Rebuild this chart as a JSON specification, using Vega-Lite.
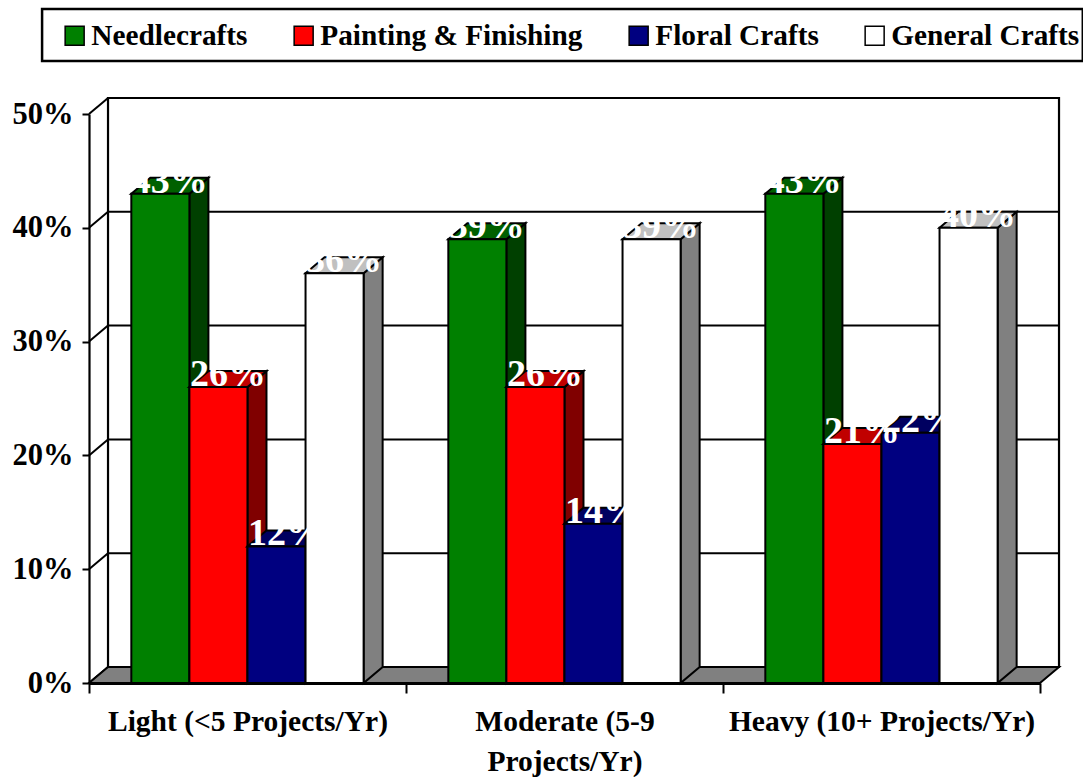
{
"$schema":"https://vega.github.io/schema/vega-lite/v6.json",
"width":951,"height":569,
"autosize":{"type":"none"},
"padding":{"left":89,"top":114,"right":43,"bottom":94},
"background":"white",
"config":{"view":{"stroke":null},"font":"Liberation Serif"},
"datasets":{
"bars":[
{"category":"Light (<5 Projects/Yr)","series":"Needlecrafts","value":0.43},
{"category":"Light (<5 Projects/Yr)","series":"Painting & Finishing","value":0.26},
{"category":"Light (<5 Projects/Yr)","series":"Floral Crafts","value":0.12},
{"category":"Light (<5 Projects/Yr)","series":"General Crafts","value":0.36},
{"category":"Moderate (5-9 Projects/Yr)","series":"Needlecrafts","value":0.39},
{"category":"Moderate (5-9 Projects/Yr)","series":"Painting & Finishing","value":0.26},
{"category":"Moderate (5-9 Projects/Yr)","series":"Floral Crafts","value":0.14},
{"category":"Moderate (5-9 Projects/Yr)","series":"General Crafts","value":0.39},
{"category":"Heavy (10+ Projects/Yr)","series":"Needlecrafts","value":0.43},
{"category":"Heavy (10+ Projects/Yr)","series":"Painting & Finishing","value":0.21},
{"category":"Heavy (10+ Projects/Yr)","series":"Floral Crafts","value":0.22},
{"category":"Heavy (10+ Projects/Yr)","series":"General Crafts","value":0.40}
],
"ticks":[{"t":0},{"t":0.1},{"t":0.2},{"t":0.3},{"t":0.4},{"t":0.5}],
"one":[{"n":1}]
},
"layer":[
{"data":{"name":"one"},"mark":{"type":"rect","fill":"white","stroke":"black","strokeWidth":2.2},
 "encoding":{
  "x":{"datum":0.06,"type":"quantitative","scale":{"domain":[0,3],"nice":false,"zero":false},
   "axis":{"title":null,"values":[0,0.5,1,1.5,2,2.5,3],"grid":false,"zindex":1,"domainColor":"black","domainWidth":3,"tickColor":"black","tickWidth":2,"tickSize":10,
    "tickOpacity":{"condition":{"test":"datum.value % 1 == 0","value":1},"value":0},
    "labelExpr":"datum.value==0.5?'Light (<5 Projects/Yr)':datum.value==1.5?['Moderate (5-9','Projects/Yr)']:datum.value==2.5?'Heavy (10+ Projects/Yr)':''",
    "labelFont":"Liberation Serif","labelFontWeight":"bold","labelFontSize":29.5,"labelColor":"black","labelPadding":14,"labelLimit":0,"labelOverlap":false,"labelFlush":false,"labelAngle":0,"labelLineHeight":40,"labelBaseline":"top"}},
  "x2":{"datum":3.06},
  "y":{"datum":0.01406,"type":"quantitative","scale":{"domain":[0,0.5],"nice":false,"zero":false},
   "axis":{"title":null,"values":[0,0.1,0.2,0.3,0.4,0.5],"format":".0%","grid":false,"zindex":1,"domainColor":"black","domainWidth":2.2,"tickColor":"black","tickWidth":2,"tickSize":7,
    "labelFont":"Liberation Serif","labelFontWeight":"bold","labelFontSize":30.5,"labelColor":"black","labelPadding":9}},
  "y2":{"datum":0.51406}
 }},
{"data":{"name":"one"},"mark":{"type":"rect","fill":"white","stroke":"black","strokeWidth":2.5},
 "encoding":{"x":{"datum":-0.148,"type":"quantitative"},"x2":{"datum":3.135},"y":{"datum":0.5466,"type":"quantitative"},"y2":{"datum":0.5922}}},
{"data":{"name":"ticks"},"transform":[{"calculate":"datum.t+0.01406","as":"tb"}],"mark":{"type":"rule","stroke":"black","strokeWidth":2},
 "encoding":{"x":{"datum":0.06,"type":"quantitative"},"x2":{"datum":3.06},"y":{"field":"tb","type":"quantitative"}}},
{"data":{"name":"ticks"},"transform":[{"calculate":"datum.t+0.01406","as":"tb"}],"mark":{"type":"rule","stroke":"black","strokeWidth":2},
 "encoding":{"x":{"datum":0,"type":"quantitative"},"x2":{"datum":0.06},"y":{"field":"t","type":"quantitative"},"y2":{"field":"tb"}}},
{"data":{"values":[{"k":0},{"k":1}]},"transform":[{"calculate":"datum.k*0.06","as":"a"},{"calculate":"3+datum.k*0.06","as":"b"},{"calculate":"datum.k*0.01406","as":"c"}],
 "mark":{"type":"area","orient":"horizontal","fill":"#808080","stroke":"black","strokeWidth":2},
 "encoding":{"y":{"field":"c","type":"quantitative","stack":null},"x":{"field":"a","type":"quantitative","stack":null},"x2":{"field":"b"}}},
{"data":{"name":"bars"},
 "transform":[
  {"calculate":"indexof(['Light (<5 Projects/Yr)','Moderate (5-9 Projects/Yr)','Heavy (10+ Projects/Yr)'],datum.category)","as":"cat"},
  {"calculate":"indexof(['Needlecrafts','Painting & Finishing','Floral Crafts','General Crafts'],datum.series)","as":"ser"},
  {"calculate":"datum.cat+0.1335+datum.ser*0.1832","as":"xa"},
  {"calculate":"datum.xa+0.1832","as":"xb"},
  {"calculate":"[0,1]","as":"k"},
  {"flatten":["k"]},
  {"calculate":"datum.xb+datum.k*0.06","as":"sx"},
  {"calculate":"datum.xa+datum.k*0.06","as":"tx"},
  {"calculate":"datum.xb+datum.k*0.06","as":"tx2"},
  {"calculate":"datum.k*0.01406","as":"low"},
  {"calculate":"datum.value+datum.k*0.01406","as":"high"},
  {"calculate":"datum.xa+0.0916+0.03","as":"xc"}
 ],
 "layer":[
  {"transform":[{"filter":"datum.ser==0"}],"layer":[
   {"mark":{"type":"area","orient":"vertical","fill":"#004000","stroke":"black","strokeWidth":2},"encoding":{"detail":{"field":"category"},"x":{"field":"sx","type":"quantitative"},"y":{"field":"high","type":"quantitative","stack":null},"y2":{"field":"low"}}},
   {"mark":{"type":"area","orient":"horizontal","fill":"#006000","stroke":"black","strokeWidth":2},"encoding":{"detail":{"field":"category"},"y":{"field":"high","type":"quantitative"},"x":{"field":"tx","type":"quantitative","stack":null},"x2":{"field":"tx2"}}},
   {"transform":[{"filter":"datum.k==0"}],"mark":{"type":"rect","stroke":"black","strokeWidth":2},"encoding":{"x":{"field":"xa","type":"quantitative"},"x2":{"field":"xb"},"y":{"field":"value","type":"quantitative"},"y2":{"datum":0},
     "color":{"field":"series","type":"nominal","scale":{"domain":["Needlecrafts","Painting & Finishing","Floral Crafts","General Crafts"],"range":["#008000","#ff0000","#000080","#ffffff"]},
      "legend":{"title":null,"orient":"none","legendX":-29,"legendY":-93,"direction":"horizontal","columns":4,"symbolType":"square","symbolSize":361,"symbolStrokeColor":"black","symbolStrokeWidth":1.5,"symbolOpacity":1,"labelFont":"Liberation Serif","labelFontWeight":"bold","labelFontSize":29.3,"labelColor":"black","labelOffset":2,"labelLimit":400,"columnPadding":41,"padding":0}}}}
  ]},
  {"transform":[{"filter":"datum.ser==1"}],"layer":[
   {"mark":{"type":"area","orient":"vertical","fill":"#800000","stroke":"black","strokeWidth":2},"encoding":{"detail":{"field":"category"},"x":{"field":"sx","type":"quantitative"},"y":{"field":"high","type":"quantitative","stack":null},"y2":{"field":"low"}}},
   {"mark":{"type":"area","orient":"horizontal","fill":"#c00000","stroke":"black","strokeWidth":2},"encoding":{"detail":{"field":"category"},"y":{"field":"high","type":"quantitative"},"x":{"field":"tx","type":"quantitative","stack":null},"x2":{"field":"tx2"}}},
   {"transform":[{"filter":"datum.k==0"}],"mark":{"type":"rect","stroke":"black","strokeWidth":2},"encoding":{"x":{"field":"xa","type":"quantitative"},"x2":{"field":"xb"},"y":{"field":"value","type":"quantitative"},"y2":{"datum":0},"color":{"field":"series","type":"nominal"}}}
  ]},
  {"transform":[{"filter":"datum.ser==2"}],"layer":[
   {"mark":{"type":"area","orient":"vertical","fill":"#000040","stroke":"black","strokeWidth":2},"encoding":{"detail":{"field":"category"},"x":{"field":"sx","type":"quantitative"},"y":{"field":"high","type":"quantitative","stack":null},"y2":{"field":"low"}}},
   {"mark":{"type":"area","orient":"horizontal","fill":"#000060","stroke":"black","strokeWidth":2},"encoding":{"detail":{"field":"category"},"y":{"field":"high","type":"quantitative"},"x":{"field":"tx","type":"quantitative","stack":null},"x2":{"field":"tx2"}}},
   {"transform":[{"filter":"datum.k==0"}],"mark":{"type":"rect","stroke":"black","strokeWidth":2},"encoding":{"x":{"field":"xa","type":"quantitative"},"x2":{"field":"xb"},"y":{"field":"value","type":"quantitative"},"y2":{"datum":0},"color":{"field":"series","type":"nominal"}}}
  ]},
  {"transform":[{"filter":"datum.ser==3"}],"layer":[
   {"mark":{"type":"area","orient":"vertical","fill":"#808080","stroke":"black","strokeWidth":2},"encoding":{"detail":{"field":"category"},"x":{"field":"sx","type":"quantitative"},"y":{"field":"high","type":"quantitative","stack":null},"y2":{"field":"low"}}},
   {"mark":{"type":"area","orient":"horizontal","fill":"#c0c0c0","stroke":"black","strokeWidth":2},"encoding":{"detail":{"field":"category"},"y":{"field":"high","type":"quantitative"},"x":{"field":"tx","type":"quantitative","stack":null},"x2":{"field":"tx2"}}},
   {"transform":[{"filter":"datum.k==0"}],"mark":{"type":"rect","stroke":"black","strokeWidth":2},"encoding":{"x":{"field":"xa","type":"quantitative"},"x2":{"field":"xb"},"y":{"field":"value","type":"quantitative"},"y2":{"datum":0},"color":{"field":"series","type":"nominal"}}}
  ]},
  {"transform":[{"filter":"datum.k==0"}],"mark":{"type":"text","font":"Liberation Serif","fontWeight":"bold","fontSize":38,"fill":"white","align":"center","baseline":"alphabetic","dy":-1},
   "encoding":{"x":{"field":"xc","type":"quantitative"},"y":{"field":"value","type":"quantitative"},"text":{"field":"value","type":"quantitative","format":".0%"}}}
 ]}
]
}
